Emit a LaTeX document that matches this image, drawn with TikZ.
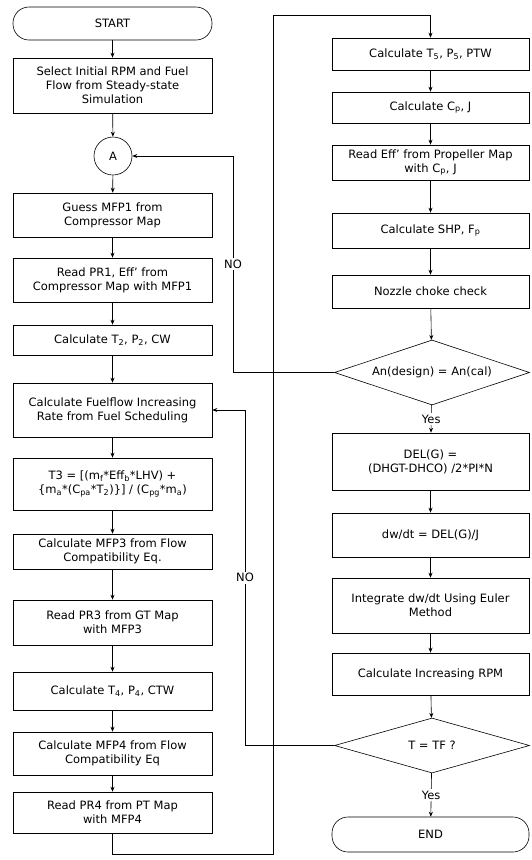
\documentclass[tikz,border=0pt]{standalone}
\usepackage{fontspec}
\setmainfont{DejaVu Sans}
\usetikzlibrary{shapes.geometric,arrows.meta}

\begin{document}
\begin{tikzpicture}[x=1pt,y=-1pt]
\tikzset{
  every node/.style={font=\fontsize{11.5}{14}\selectfont},
  box/.style={draw,line width=0.6pt,align=center,inner sep=1pt,minimum width=199pt},
  rbox/.style={box,minimum width=197pt},
  term/.style={box,rounded corners=16pt},
  conn/.style={draw,circle,line width=0.6pt,minimum size=38pt,inner sep=0pt},
  dec/.style={draw,diamond,line width=0.6pt,inner sep=0pt,minimum width=195pt},
  arr/.style={line width=0.6pt,-{Stealth[length=5pt,width=4pt]}},
  lbl/.style={fill=white,inner sep=1.5pt}
}
\useasboundingbox (0,0) rectangle (531,860);

% Left column
\node[term,minimum height=33pt] (start) at (112.5,23.5) {START};
\node[box,minimum height=55pt] (sel) at (112.5,85.5) {Select Initial RPM and Fuel\\Flow from Steady-state\\Simulation};
\node[conn] (A) at (113,156) {A};
\node[box,minimum height=44pt] (mfp1) at (112.5,215) {Guess MFP1 from\\Compressor Map};
\node[box,minimum height=44pt] (pr1) at (112.5,280) {Read PR1, Eff' from\\Compressor Map with MFP1};
\node[box,minimum height=30pt] (t2) at (112.5,340) {Calculate T\textsubscript{2}, P\textsubscript{2}, CW};
\node[box,minimum height=54pt] (fuel) at (112.5,410) {Calculate Fuelflow Increasing\\Rate from Fuel Scheduling};
\node[box,minimum height=52pt] (t3) at (112.5,484) {T3 = [(m\textsubscript{f}*Eff\textsubscript{b}*LHV) +\\\{m\textsubscript{a}*(C\textsubscript{pa}*T\textsubscript{2})\}] / (C\textsubscript{pg}*m\textsubscript{a})};
\node[box,minimum height=35pt] (mfp3) at (112.5,551.5) {Calculate MFP3 from Flow\\Compatibility Eq.};
\node[box,minimum height=45pt] (pr3) at (112.5,622.5) {Read PR3 from GT Map\\with MFP3};
\node[box,minimum height=38pt] (t4) at (112.5,691) {Calculate T\textsubscript{4}, P\textsubscript{4}, CTW};
\node[box,minimum height=43pt] (mfp4) at (112.5,753.5) {Calculate MFP4 from Flow\\Compatibility Eq};
\node[box,minimum height=41pt] (pr4) at (112.5,812.5) {Read PR4 from PT Map\\with MFP4};

% Right column
\node[rbox,minimum height=32pt] (t5) at (430.5,54) {Calculate T\textsubscript{5}, P\textsubscript{5}, PTW};
\node[rbox,minimum height=31pt] (cp) at (430.5,107.5) {Calculate C\textsubscript{p}, J};
\node[rbox,minimum height=35pt] (eff) at (430.5,162.5) {Read Eff' from Propeller Map\\with C\textsubscript{p}, J};
\node[rbox,minimum height=35pt] (shp) at (430.5,230.5) {Calculate SHP, F\textsubscript{p}};
\node[rbox,minimum height=33pt] (noz) at (430.5,291.5) {Nozzle choke check};
\node[dec,aspect=3,minimum height=65pt] (chk1) at (432,372.5) {An(design) = An(cal)};
\node[rbox,minimum height=57pt] (del) at (430.5,461.5) {DEL(G) =\\(DHGT-DHCO) /2*PI*N};
\node[rbox,minimum height=44pt] (dw) at (430.5,535) {dw/dt = DEL(G)/J};
\node[rbox,minimum height=55pt] (integ) at (430.5,605.5) {Integrate dw/dt Using Euler\\Method};
\node[rbox,minimum height=42pt] (rpm) at (430.5,674) {Calculate Increasing RPM};
\node[dec,aspect=3.55,minimum height=55pt] (chk2) at (432,745.5) {T = TF ?};
\node[term,minimum width=197pt,minimum height=35pt] (end) at (430.5,834.5) {END};

% Loop points
\coordinate (noA) at (233,372.5);
\coordinate (noF) at (245,745.5);
\coordinate (botL) at (273,854);
\coordinate (topL) at (273,15);

% Left column flow
\draw[arr] (start) -- (sel);
\draw[arr] (sel) -- (A);
\draw[arr] (A) -- (mfp1);
\draw[arr] (mfp1) -- (pr1);
\draw[arr] (pr1) -- (t2);
\draw[arr] (t2) -- (fuel);
\draw[arr] (fuel) -- (t3);
\draw[arr] (t3) -- (mfp3);
\draw[arr] (mfp3) -- (pr3);
\draw[arr] (pr3) -- (t4);
\draw[arr] (t4) -- (mfp4);
\draw[arr] (mfp4) -- (pr4);

% Link to right column
\draw[arr] (pr4.south) |- (botL) -- (topL) -| (t5.north);

% Right column flow
\draw[arr] (t5) -- (cp);
\draw[arr] (cp) -- (eff);
\draw[arr] (eff) -- (shp);
\draw[arr] (shp) -- (noz);
\draw[arr] (noz) -- (chk1);
\draw[arr] (chk1) -- node[lbl] {Yes} (del);
\draw[arr] (del) -- (dw);
\draw[arr] (dw) -- (integ);
\draw[arr] (integ) -- (rpm);
\draw[arr] (rpm) -- (chk2);
\draw[arr] (chk2) -- node[lbl] {Yes} (end);

% Feedback loops
\draw[arr] (chk1.west) -- (noA) -- node[lbl] {NO} (noA |- A.east) -- (A.east);
\draw[arr] (chk2.west) -- (noF) -- node[lbl] {NO} (noF |- fuel.east) -- (fuel.east);

\end{tikzpicture}
\end{document}
